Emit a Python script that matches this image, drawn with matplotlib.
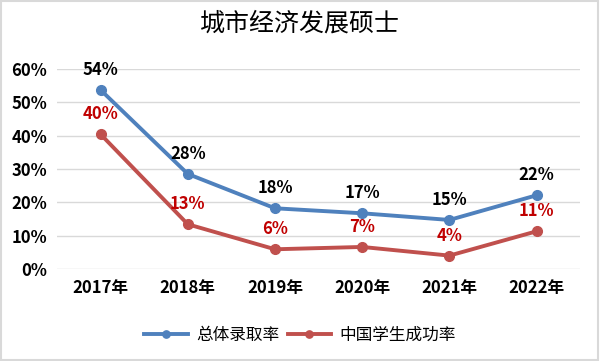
import matplotlib.pyplot as plt
from matplotlib.patches import Rectangle

plt.rcParams['font.family'] = ['Noto Sans CJK SC', 'DejaVu Sans']

years = ['2017年', '2018年', '2019年', '2020年', '2021年', '2022年']
total_rate = [53.7, 28.5, 18.2, 16.7, 14.7, 22.1]
cn_rate = [40.4, 13.4, 5.9, 6.6, 4.0, 11.3]
total_labels = ['54%', '28%', '18%', '17%', '15%', '22%']
cn_labels = ['40%', '13%', '6%', '7%', '4%', '11%']

fig = plt.figure(figsize=(6, 3.61), dpi=100)
ax = fig.add_axes([0.095, 0.255, 0.872, 0.554])

x = range(len(years))
ax.plot(x, total_rate, color='#4F81BD', lw=2.8, marker='o', ms=7, label='总体录取率', zorder=3)
ax.plot(x, cn_rate, color='#C0504D', lw=2.8, marker='o', ms=7, label='中国学生成功率', zorder=3)

for i in x:
    ax.annotate(total_labels[i], (i, total_rate[i]), xytext=(0, 8), textcoords='offset points',
                ha='center', va='bottom', fontsize=12, fontweight='bold', color='black')
    ax.annotate(cn_labels[i], (i, cn_rate[i]), xytext=(0, 8), textcoords='offset points',
                ha='center', va='bottom', fontsize=12, fontweight='bold', color='#C00000')

ax.set_xlim(-0.5, 5.5)
ax.set_ylim(0, 60)
ax.set_yticks(range(0, 61, 10))
ax.set_yticklabels([f'{v}%' for v in range(0, 61, 10)])
ax.set_xticks(list(x))
ax.set_xticklabels(years)
ax.tick_params(length=0, labelsize=12, pad=7)
for lbl in ax.get_xticklabels() + ax.get_yticklabels():
    lbl.set_fontweight('bold')
ax.grid(axis='y', color='#D9D9D9', lw=1)
ax.set_axisbelow(True)
for s in ax.spines.values():
    s.set_visible(False)

fig.text(0.5, 0.935, '城市经济发展硕士', ha='center', va='center', fontsize=18)
leg = fig.legend(loc='center', bbox_to_anchor=(0.5, 0.072), ncol=2, frameon=False,
                 prop={'size': 12}, handlelength=2.6, columnspacing=0.5, handletextpad=0.5,
                 markerscale=0.75)

fig.patches.append(Rectangle((0.002, 0.003), 0.995, 0.993, transform=fig.transFigure,
                             fill=False, edgecolor='#D9D9D9', lw=1.5))

fig.savefig('out.png', dpi=100)
